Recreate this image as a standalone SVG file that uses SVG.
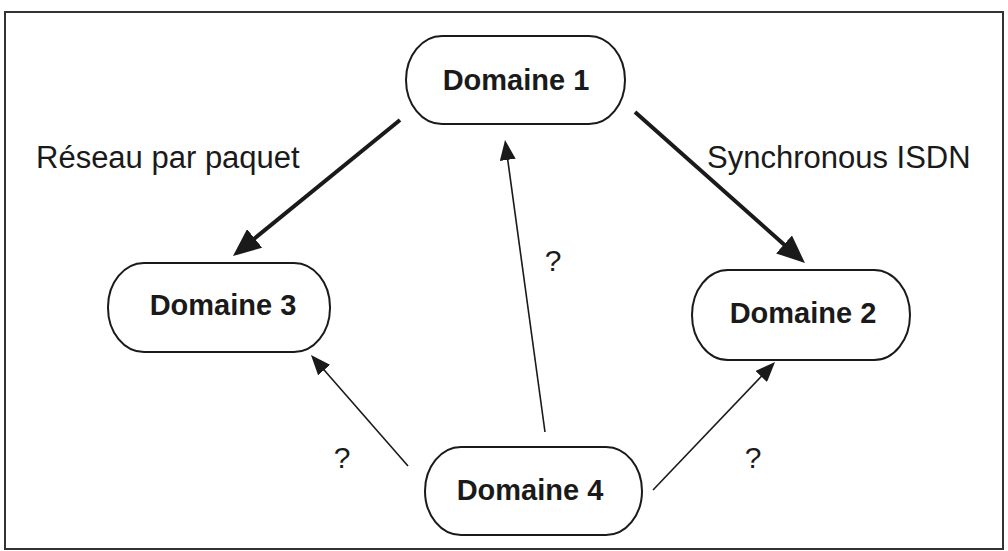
<svg xmlns="http://www.w3.org/2000/svg" width="1008" height="551" viewBox="0 0 1008 551">
<style>
.node{fill:#fff;stroke:#1a1a1a;stroke-width:2}
.nl{font-family:"Liberation Sans",Arial,sans-serif;font-weight:bold;font-size:29px;fill:#1a1a1a;text-anchor:middle}
.lab{font-family:"Liberation Sans",Arial,sans-serif;font-size:31px;fill:#1a1a1a}
.q{font-family:"Liberation Sans",Arial,sans-serif;font-size:30px;fill:#1a1a1a;text-anchor:middle}
.thick{stroke:#1a1a1a;stroke-width:4;fill:none}
.thin{stroke:#1a1a1a;stroke-width:1.6;fill:none}
</style>
<defs>
<marker id="ah" viewBox="0 -12 28 24" refX="6" refY="0" markerWidth="28" markerHeight="24" markerUnits="userSpaceOnUse" orient="auto">
<path d="M0,-12 L28,0 L0,12 z" fill="#1a1a1a"/>
</marker>
<marker id="at" viewBox="0 -8 20 16" refX="4" refY="0" markerWidth="20" markerHeight="16" markerUnits="userSpaceOnUse" orient="auto">
<path d="M0,-8 L20,0 L0,8 z" fill="#1a1a1a"/>
</marker>
</defs>
<rect x="0" y="0" width="1008" height="551" fill="#fff"/>
<rect x="5" y="12" width="998" height="537" fill="none" stroke="#333" stroke-width="2"/>
<g id="connectors">
<line class="thick" x1="400" y1="120" x2="250" y2="242.2" marker-end="url(#ah)"/>
<line class="thick" x1="635" y1="112" x2="788.5" y2="248.4" marker-end="url(#ah)"/>
<line class="thin" x1="545" y1="432" x2="507.2" y2="155.9" marker-end="url(#at)"/>
<line class="thin" x1="408" y1="466" x2="321.5" y2="367" marker-end="url(#at)"/>
<line class="thin" x1="653" y1="490" x2="764" y2="373.6" marker-end="url(#at)"/>
</g>
<g id="labels">
<text class="lab" x="36" y="168">Réseau par paquet</text>
<text class="lab" x="707" y="168">Synchronous ISDN</text>
<text class="q" x="553" y="271">?</text>
<text class="q" x="342" y="468">?</text>
<text class="q" x="753" y="468">?</text>
</g>
<g id="domaine1">
<rect class="node" x="406" y="36" width="219" height="88" rx="36" ry="44"/>
<text class="nl" x="516" y="90">Domaine 1</text>
</g>
<g id="domaine3">
<rect class="node" x="108" y="263" width="222" height="89" rx="36" ry="44"/>
<text class="nl" x="223" y="315">Domaine 3</text>
</g>
<g id="domaine2">
<rect class="node" x="692" y="270" width="218" height="90" rx="36" ry="45"/>
<text class="nl" x="803" y="323">Domaine 2</text>
</g>
<g id="domaine4">
<rect class="node" x="425" y="447" width="217" height="88" rx="36" ry="44"/>
<text class="nl" x="530" y="500">Domaine 4</text>
</g>
</svg>
